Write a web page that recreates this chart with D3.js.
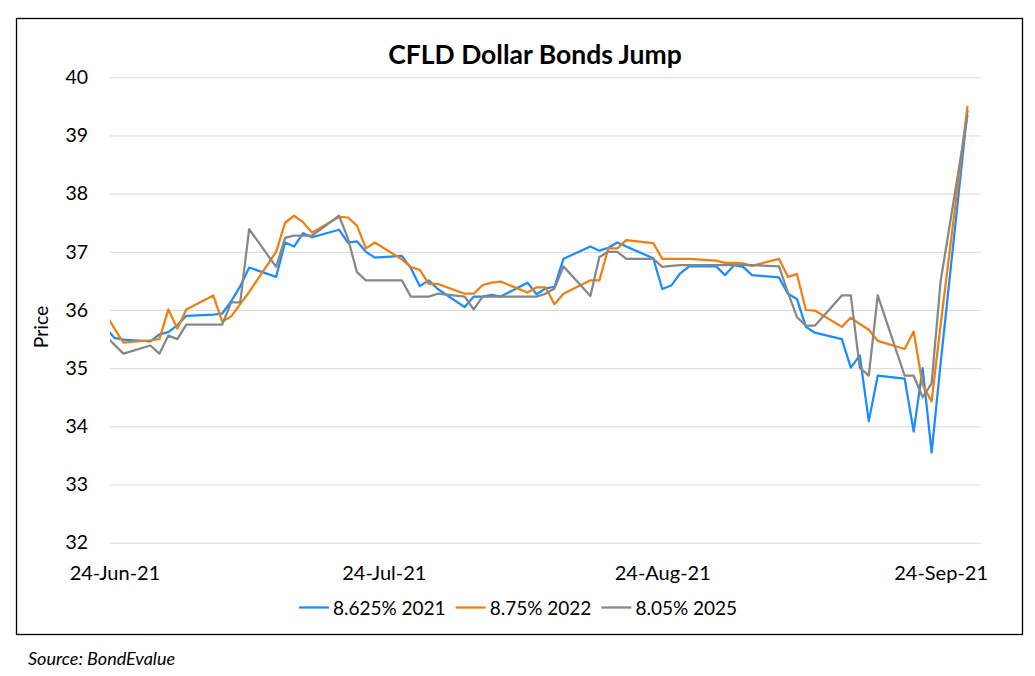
<!DOCTYPE html>
<html>
<head>
<meta charset="utf-8">
<script src="https://cdn.jsdelivr.net/npm/d3@7"></script>
<style>
  html, body { margin: 0; padding: 0; background: #fff; }
  svg { display: block; }
  text { font-family: Lato, "Open Sans", "DejaVu Sans", sans-serif; fill: #000; }
</style>
</head>
<body>
<svg id="chart" width="1035" height="676"></svg>
<script>
// ---- data ----
const dates = ["2021-06-23","2021-06-24","2021-06-25","2021-06-28","2021-06-29","2021-06-30",
"2021-07-01","2021-07-02","2021-07-05","2021-07-06","2021-07-07","2021-07-08","2021-07-09",
"2021-07-12","2021-07-13","2021-07-14","2021-07-15","2021-07-16","2021-07-19","2021-07-20",
"2021-07-21","2021-07-22","2021-07-23","2021-07-26","2021-07-27","2021-07-28","2021-07-29",
"2021-07-30","2021-08-02","2021-08-03","2021-08-04","2021-08-05","2021-08-06","2021-08-09",
"2021-08-10","2021-08-11","2021-08-12","2021-08-13","2021-08-16","2021-08-17","2021-08-18",
"2021-08-19","2021-08-20","2021-08-23","2021-08-24","2021-08-25","2021-08-26","2021-08-27",
"2021-08-30","2021-08-31","2021-09-01","2021-09-02","2021-09-03","2021-09-06","2021-09-07",
"2021-09-08","2021-09-09","2021-09-10","2021-09-13","2021-09-14","2021-09-15","2021-09-16",
"2021-09-17","2021-09-20","2021-09-21","2021-09-22","2021-09-23","2021-09-24","2021-09-27"];

const bond2021 = [35.70,35.52,35.49,35.46,35.58,35.62,
35.74,35.90,35.92,35.94,36.15,36.41,36.73,
36.57,37.16,37.09,37.32,37.25,37.38,37.16,
37.18,37.00,36.90,36.93,36.72,36.41,36.51,
36.36,36.05,36.23,36.23,36.26,36.23,36.47,
36.27,36.37,36.40,36.88,37.09,37.02,37.07,
37.16,37.09,36.89,36.36,36.42,36.63,36.75,
36.75,36.60,36.77,36.74,36.60,36.56,36.28,
36.19,35.71,35.61,35.50,35.01,35.22,34.09,
34.87,34.82,33.91,35.00,33.55,35.08,39.44];

const bond2022 = [35.94,35.68,35.44,35.48,35.50,36.01,
35.68,36.01,36.25,35.80,35.89,36.10,36.31,
37.00,37.50,37.62,37.51,37.33,37.60,37.59,
37.45,37.06,37.16,36.87,36.74,36.69,36.45,
36.45,36.28,36.28,36.43,36.47,36.49,36.30,
36.39,36.39,36.10,36.28,36.51,36.51,37.06,
37.06,37.20,37.15,36.88,36.88,36.88,36.88,
36.85,36.81,36.81,36.80,36.76,36.88,36.57,
36.62,36.00,35.99,35.71,35.87,35.76,35.66,
35.47,35.33,35.63,34.71,34.43,35.74,39.51];

const bond2025 = [35.56,35.40,35.25,35.39,35.25,35.56,
35.50,35.75,35.75,35.75,36.13,36.13,37.39,
36.74,37.24,37.28,37.28,37.28,37.62,37.23,
36.65,36.51,36.51,36.51,36.23,36.23,36.23,
36.28,36.23,36.01,36.23,36.23,36.23,36.23,
36.23,36.28,36.37,36.75,36.24,36.91,37.00,
37.00,36.88,36.88,36.74,36.76,36.77,36.77,
36.77,36.77,36.77,36.77,36.77,36.75,36.30,
35.88,35.73,35.73,36.25,36.25,35.01,34.87,
36.25,34.87,34.87,34.50,34.74,36.49,39.35];

const seriesNames = ["8.625% 2021", "8.75% 2022", "8.05% 2025"];
const seriesColors = ["#1a8cff", "#f07f12", "#878787"];
const yTicks = [32, 33, 34, 35, 36, 37, 38, 39, 40];
const xTickDates = ["2021-06-24", "2021-07-24", "2021-08-24", "2021-09-24"];
const titleText = "CFLD Dollar Bonds Jump";
const yLabel = "Price";
const sourceText = "Source: BondEvalue";

// ---- drawing ----
const parse = d3.utcParse("%Y-%m-%d");
const fmt = d3.utcFormat("%d-%b-%y");
const svg = d3.select("#chart");

const plot = { left: 110, right: 981, top: 77.3, bottom: 542.7 };

const x = d3.scaleUtc()
  .domain([new Date(Date.UTC(2021, 5, 23, 12)), new Date(Date.UTC(2021, 8, 28, 12))])
  .range([plot.left, plot.right]);
const y = d3.scaleLinear().domain([32, 40]).range([plot.bottom, plot.top]);

svg.append("rect").attr("x", 0).attr("y", 0).attr("width", 1035).attr("height", 676).attr("fill", "#fff");
svg.append("rect").attr("x", 16.5).attr("y", 18.5).attr("width", 1006).attr("height", 616)
  .attr("fill", "none").attr("stroke", "#000").attr("stroke-width", 1.3);

// title
svg.append("text").attr("x", 535).attr("y", 64).attr("text-anchor", "middle")
  .style("font-weight", "bold").style("font-size", "26.5px").text(titleText);

// y axis (gridlines + labels)
const yAxis = d3.axisLeft(y).tickValues(yTicks).tickSize(-(plot.right - plot.left)).tickPadding(22).tickFormat(d3.format("d"));
const gy = svg.append("g").attr("transform", `translate(${plot.left},0)`).call(yAxis);
gy.select(".domain").remove();
gy.selectAll(".tick line").attr("stroke", "#d9d9d9").attr("stroke-width", 1);
gy.selectAll(".tick text").style("font-size", "19.5px").style("font-family", "Lato, sans-serif").attr("fill", "#000");

// x axis labels
const xAxis = d3.axisBottom(x).tickValues(xTickDates.map(parse)).tickSize(0).tickPadding(0).tickFormat(fmt);
const gx = svg.append("g").attr("transform", `translate(0,${plot.bottom})`).call(xAxis);
gx.select(".domain").remove();
gx.selectAll(".tick text").attr("dy", null).attr("y", 37)
  .style("font-size", "20px").style("font-family", "Lato, sans-serif").attr("fill", "#000");

// y label
svg.append("text").attr("transform", "translate(48,327) rotate(-90)")
  .attr("text-anchor", "middle").style("font-size", "19.5px").text(yLabel);

// clip
svg.append("clipPath").attr("id", "clip").append("rect")
  .attr("x", plot.left).attr("y", 0).attr("width", plot.right - plot.left).attr("height", 676);

const allSeries = [bond2021, bond2022, bond2025];
const line = d3.line().x((d, i) => x(parse(dates[i]))).y(d => y(d));
const gl = svg.append("g").attr("clip-path", "url(#clip)");
allSeries.forEach((vals, k) => {
  gl.append("path").datum(vals).attr("d", line).attr("fill", "none")
    .attr("stroke", seriesColors[k]).attr("stroke-width", 2.25).attr("stroke-linejoin", "round");
});

// legend
const lg = svg.append("g");
let cx = 0;
seriesNames.forEach((name, k) => {
  const g = lg.append("g");
  g.append("line").attr("x1", 0).attr("x2", 30).attr("y1", 0).attr("y2", 0)
    .attr("stroke", seriesColors[k]).attr("stroke-width", 2.25);
  const t = g.append("text").attr("x", 34).attr("y", 7).style("font-size", "19px").text(name);
  const w = 34 + t.node().getComputedTextLength();
  g.attr("transform", `translate(${cx},0)`);
  cx += w + 10;
});
const totalW = cx - 10;
lg.attr("transform", `translate(${518 - totalW / 2},607.5)`);

// source
svg.append("text").attr("x", 28).attr("y", 665).style("font-style", "italic").style("font-size", "18px").text(sourceText);
</script>
</body>
</html>
